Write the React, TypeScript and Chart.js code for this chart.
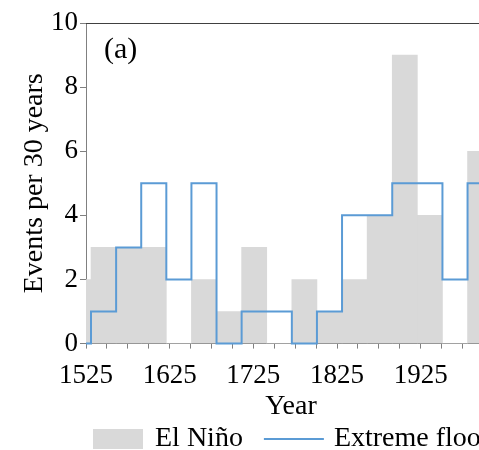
import React, { useEffect, useRef } from "react";
import { Chart, registerables } from "chart.js";

Chart.register(...registerables);

// ---- data ----
const binStarts = [1501, 1531, 1561, 1591, 1621, 1651, 1681, 1711, 1741, 1771, 1801, 1831, 1861, 1891, 1921, 1951, 1981];
const binWidth = 30;
const elNino = [2, 3, 3, 3, 0, 2, 1, 3, 0, 2, 1, 2, 4, 9, 4, 0, 6];
const floods = [0, 1, 3, 5, 2, 5, 0, 1, 1, 0, 1, 4, 4, 5, 5, 2, 5];
const labeledYears = [1525, 1625, 1725, 1825, 1925];
const seriesNames = ["El Niño", "Extreme floods"];
const panelLabel = "(a)";
const xTitle = "Year";
const yTitle = "Events per 30 years";

const FONT = "Liberation Serif";
const GREY_BAR = "#d9d9d9";
const BLUE = "#5b9bd5";
const AXIS = "#808080";

const decorPlugin = {
  id: "decor",
  afterDraw(chart: any) {
    const { ctx, chartArea: a, scales } = chart;
    ctx.save();
    // top frame line
    ctx.strokeStyle = "#404040";
    ctx.lineWidth = 1;
    ctx.beginPath();
    ctx.moveTo(a.left, Math.round(a.top) + 0.5);
    ctx.lineTo(a.right, Math.round(a.top) + 0.5);
    ctx.stroke();
    // panel label
    ctx.fillStyle = "#000";
    ctx.font = `30px "${FONT}"`;
    ctx.textBaseline = "middle";
    ctx.textAlign = "left";
    ctx.fillText(panelLabel, a.left + 18, a.top + 27);
    // legend
    const ds = chart.data.datasets;
    const ly = scales.x.bottom + 18;
    ctx.font = `28px "${FONT}"`;
    let x = a.left + 7;
    // bar item
    ctx.fillStyle = ds[0].backgroundColor;
    ctx.fillRect(x, ly - 10, 50, 20);
    x += 62;
    ctx.fillStyle = "#000";
    ctx.fillText(ds[0].label, x, ly);
    x += ctx.measureText(ds[0].label).width + 21;
    // line item
    ctx.strokeStyle = ds[1].borderColor;
    ctx.lineWidth = 2;
    ctx.beginPath();
    ctx.moveTo(x, ly);
    ctx.lineTo(x + 60, ly);
    ctx.stroke();
    x += 70;
    ctx.fillText(ds[1].label, x, ly);
    ctx.restore();
  },
};

export default function App() {
  const ref = useRef<HTMLCanvasElement>(null);

  useEffect(() => {
    let chart: Chart | null = null;
    let cancelled = false;
    const build = () => {
      if (cancelled || !ref.current) return;
      const barData = binStarts.map((s, i) => ({ x: s + binWidth / 2, y: elNino[i] }));
      const lineData = binStarts.map((s, i) => ({ x: s, y: floods[i] }));
      lineData.push({ x: binStarts[binStarts.length - 1] + binWidth, y: floods[floods.length - 1] });

      chart = new Chart(ref.current, {
        type: "bar",
        data: {
          datasets: [
            {
              type: "bar",
              label: seriesNames[0],
              data: barData,
              xAxisID: "xb",
              backgroundColor: GREY_BAR,
              borderWidth: 0,
              barPercentage: 1,
              categoryPercentage: 1,
              grouped: false,
              clip: 0,
              order: 2,
            } as any,
            {
              type: "line",
              label: seriesNames[1],
              data: lineData,
              xAxisID: "x",
              borderColor: BLUE,
              backgroundColor: BLUE,
              borderWidth: 2,
              pointRadius: 0,
              fill: false,
              stepped: "before",
              clip: { left: 0, right: 0, top: 3, bottom: 3 },
              order: 1,
            } as any,
          ],
        },
        options: {
          responsive: false,
          animation: false,
          font: { family: FONT },
          layout: { padding: { top: 23, left: 21, right: 64, bottom: 29 } },
          plugins: { legend: { display: false }, tooltip: { enabled: false } },
          scales: {
            xb: {
              type: "linear",
              display: false,
              min: 1525,
              max: 2015,
              offset: false,
              afterBuildTicks: (axis: any) => {
                axis.ticks = [];
              },
            },
            x: {
              type: "linear",
              min: 1525,
              max: 2015,
              offset: false,
              grid: { display: true, drawOnChartArea: false, drawTicks: true, tickLength: 5, color: AXIS, offset: false },
              border: { display: true, color: AXIS, width: 1 },
              ticks: {
                stepSize: 25,
                autoSkip: false,
                maxRotation: 0,
                padding: 11,
                color: "#000",
                font: { family: FONT, size: 27 },
                callback: (v: any) => (labeledYears.includes(Number(v)) ? String(v) : ""),
              },
              title: {
                display: true,
                text: xTitle,
                color: "#000",
                font: { family: FONT, size: 28, lineHeight: 1 },
                padding: { top: -10, bottom: 0 },
              },
            },
            y: {
              min: 0,
              max: 10,
              z: 1,
              grid: { display: true, drawOnChartArea: false, drawTicks: true, tickLength: 6, color: AXIS },
              border: { display: true, color: AXIS, width: 1 },
              ticks: {
                stepSize: 2,
                padding: 2,
                color: "#000",
                font: { family: FONT, size: 27 },
              },
              title: {
                display: true,
                text: yTitle,
                color: "#000",
                font: { family: FONT, size: 28, lineHeight: 1 },
                padding: { top: 0, bottom: 0 },
              },
            },
          },
        },
        plugins: [decorPlugin],
      });
    };
    const fonts = (document as any).fonts;
    if (fonts && fonts.load) {
      Promise.all([fonts.load(`27px "${FONT}"`), fonts.load(`28px "${FONT}"`)])
        .catch(() => null)
        .then(build);
    } else {
      build();
    }
    return () => {
      cancelled = true;
      if (chart) chart.destroy();
    };
  }, []);

  return (
    <div style={{ position: "fixed", left: 0, top: 0, width: 479, height: 450, overflow: "hidden", background: "#fff" }}>
      <canvas ref={ref} width={560} height={450} style={{ width: 560, height: 450, display: "block" }} />
    </div>
  );
}
